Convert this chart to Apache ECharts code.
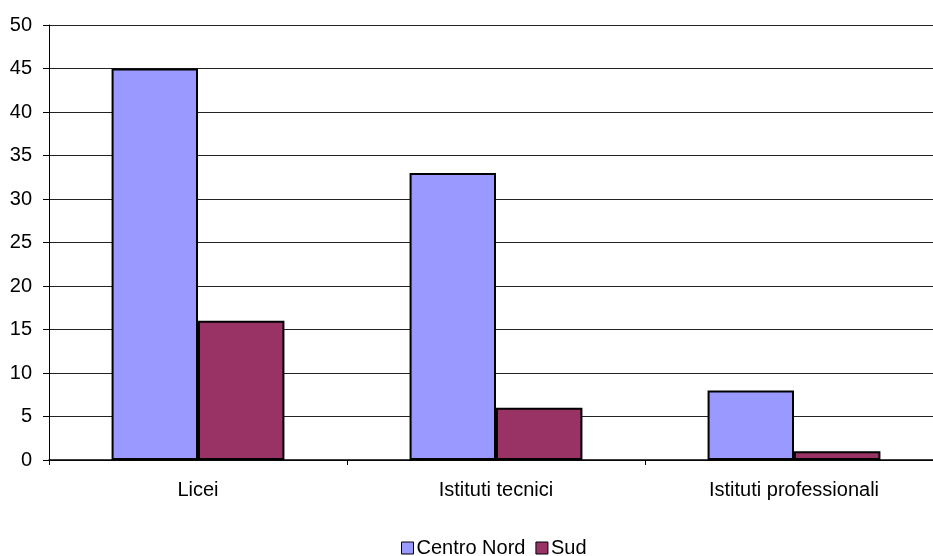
<!DOCTYPE html>
<html>
<head>
<meta charset="utf-8">
<script src="https://cdn.jsdelivr.net/npm/echarts@6/dist/echarts.min.js"></script>
<style>html,body{margin:0;padding:0;background:#fff;overflow:hidden}#c{width:943px;height:556px}</style>
</head>
<body>
<div id="c"></div>
<script>
const categories = ['Licei', 'Istituti tecnici', 'Istituti professionali'];
const centroNord = [45, 33, 8];
const sud = [16, 6, 1];
const yTicks = [0, 5, 10, 15, 20, 25, 30, 35, 40, 45, 50];

// The plot runs slightly past the visible right edge, so the container is a bit wider than the page.
const chart = echarts.init(document.getElementById('c'), null, {renderer: 'canvas'});
const font = 'Liberation Sans, Arial, sans-serif';
chart.setOption({
  animation: false,
  grid: {left: 49, right: 0, top: 25, bottom: 96},
  legend: {
    top: 533, left: 396,
    itemWidth: 12, itemHeight: 12, itemGap: 10,
    textStyle: {fontFamily: font, fontSize: 20, color: '#000', padding: [0, 0, 0, -2]},
    data: [
      {name: 'Centro Nord', icon: 'rect', itemStyle: {borderColor: '#000', borderWidth: 1}},
      {name: 'Sud', icon: 'rect', itemStyle: {borderColor: '#000', borderWidth: 1}}
    ]
  },
  xAxis: {
    type: 'category', data: categories,
    axisLine: {lineStyle: {color: '#000', width: 1.5}},
    axisTick: {show: true, length: 5, lineStyle: {color: '#000'}},
    axisLabel: {fontFamily: font, fontSize: 20, color: '#000', margin: 20}
  },
  yAxis: {
    type: 'value', min: yTicks[0], max: yTicks[yTicks.length - 1], interval: 5,
    axisLine: {show: true, lineStyle: {color: '#000'}},
    axisTick: {show: true, length: 6, lineStyle: {color: '#000'}},
    axisLabel: {fontFamily: font, fontSize: 20, color: '#000', margin: 17, padding: [0, 0, 5, 0]},
    splitLine: {lineStyle: {color: '#222', width: 1}}
  },
  series: [
    {name: 'Centro Nord', type: 'bar', data: centroNord, barGap: '0%', barCategoryGap: '42%',
     itemStyle: {color: '#9999FF', borderColor: '#000', borderWidth: 2}},
    {name: 'Sud', type: 'bar', data: sud,
     itemStyle: {color: '#993366', borderColor: '#000', borderWidth: 2}}
  ]
});
</script>
</body>
</html>
